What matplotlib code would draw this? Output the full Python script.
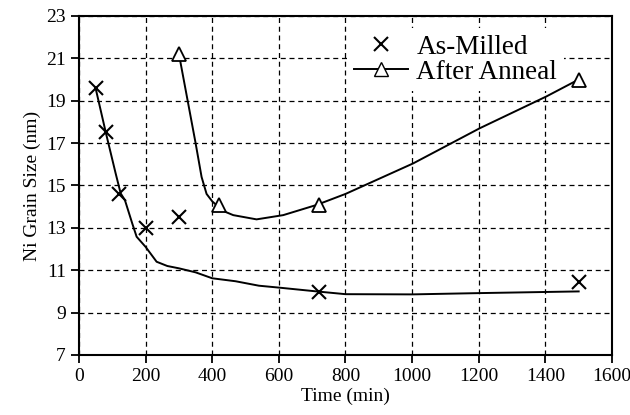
import numpy as np
import matplotlib
matplotlib.use('Agg')
import matplotlib.pyplot as plt
from matplotlib.lines import Line2D

# measured points
milled_t = [50, 80, 120, 200, 300, 720, 1500]
milled_d = [19.6, 17.5, 14.6, 13.0, 13.5, 9.95, 10.45]
anneal_t = [300, 420, 720, 1500]
anneal_d = [21.2, 14.1, 14.1, 20.0]

# hand-drawn trend curves
milled_fit_t = [50, 81, 110, 125, 138, 160, 173, 200, 233, 265, 300, 350, 400, 470, 540, 600, 720, 800, 1000, 1200, 1500]
milled_fit_d = [19.58, 17.46, 15.57, 14.63, 14.3, 13.2, 12.58, 12.1, 11.4, 11.2, 11.09, 10.9, 10.62, 10.48, 10.27, 10.18, 9.99, 9.87, 9.86, 9.92, 10.0]
anneal_fit_t = [300, 350, 368, 383, 400, 418, 440, 463, 533, 613, 713, 800, 1003, 1203, 1403, 1500]
anneal_fit_d = [21.2, 17.0, 15.4, 14.6, 14.25, 14.0, 13.75, 13.6, 13.4, 13.6, 14.08, 14.6, 16.04, 17.7, 19.2, 20.0]

plt.rcParams['font.family'] = ['Liberation Serif', 'DejaVu Serif']

fig = plt.figure(figsize=(6.3, 4.15), dpi=100)
ax = fig.add_axes([0.1254, 0.1446, 0.846, 0.817])

ax.plot(milled_fit_t, milled_fit_d, color='black', lw=1.4)
ax.plot(anneal_fit_t, anneal_fit_d, color='black', lw=1.4)
ax.plot(milled_t, milled_d, ls='none', marker='x', ms=10, mew=1.5, color='black')
ax.plot(anneal_t, anneal_d, ls='none', marker='^', ms=10, mew=1.3, mfc='white', mec='black')

ax.set_xlim(0, 1600)
ax.set_ylim(7, 23)
ax.set_xticks(np.arange(0, 1601, 200))
ax.set_yticks(np.arange(7, 24, 2))
ax.grid(True, color='black', ls=(0, (4, 3)), lw=0.9)
ax.set_axisbelow(True)
for s in ax.spines.values():
    s.set_linewidth(1.5)
ax.tick_params(direction='out', length=6, width=1.3, labelsize=14, colors='black')
ax.set_xlabel('Time (min)', fontsize=14, labelpad=2)
ax.set_ylabel('Ni Grain Size (nm)', fontsize=14)

handles = [Line2D([], [], ls='none', marker='x', ms=10, mew=1.5, color='black'),
           Line2D([], [], color='black', lw=1.4, marker='^', ms=10, mfc='white', mec='black')]
leg = ax.legend(handles, ['As-Milled', 'After Anneal'], loc='upper right',
                bbox_to_anchor=(0.935, 1.005), frameon=True, fontsize=19.5,
                handlelength=2.0, handletextpad=0.3, labelspacing=0.0, borderpad=0.25)
leg.get_frame().set_edgecolor('none')
leg.get_frame().set_facecolor('white')
leg.get_frame().set_alpha(1)
# keep the data lines on top of the legend box, grid underneath
leg.set_zorder(1.5)

fig.savefig('out.png', dpi=100)
